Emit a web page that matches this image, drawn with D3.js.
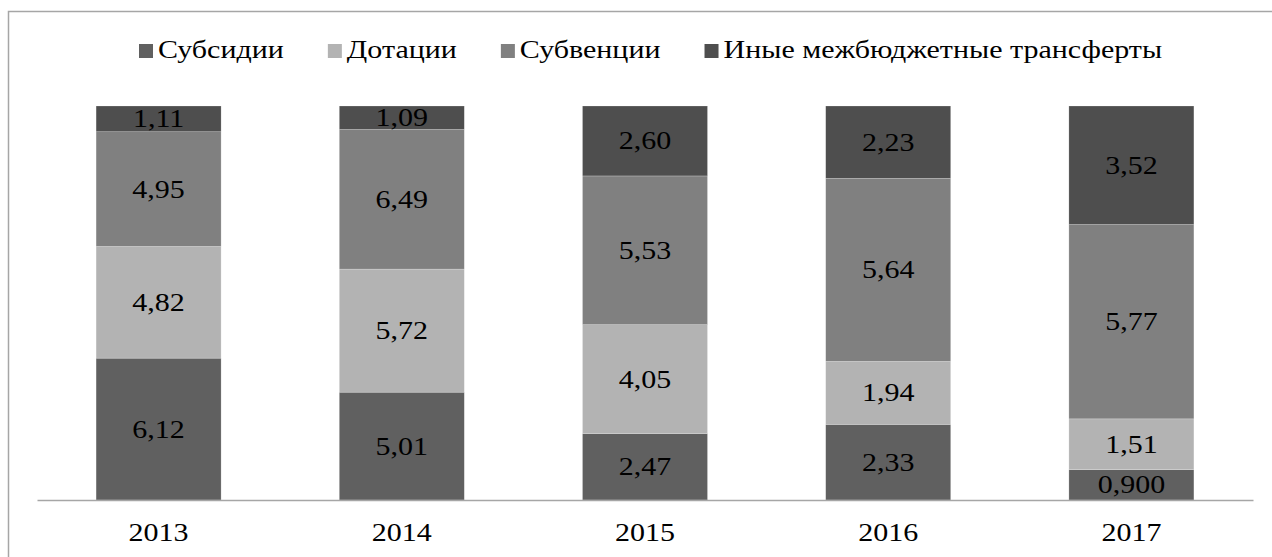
<!DOCTYPE html>
<html>
<head>
<meta charset="utf-8">
<script src="https://cdn.jsdelivr.net/npm/d3@7"></script>
<style>
  body { margin: 0; background: #fff; }
  svg { display: block; }
</style>
</head>
<body>
<div id="chart"></div>
<script>
// Data (values shown as labels, bars stacked to 100%)
const years = ['2013', '2014', '2015', '2016', '2017'];
const seriesNames = ['Субсидии', 'Дотации', 'Субвенции', 'Иные межбюджетные трансферты'];
const subsidies = [6.12, 5.01, 2.47, 2.33, 0.900];
const grants = [4.82, 5.72, 4.05, 1.94, 1.51];
const subventions = [4.95, 6.49, 5.53, 5.64, 5.77];
const otherTransfers = [1.11, 1.09, 2.60, 2.23, 3.52];
const seriesColors = ['#606060', '#b3b3b3', '#808080', '#4e4e4e'];

const width = 1272;
const height = 557;
const fontFamily = "'Liberation Serif', 'DejaVu Serif', serif";
const fontSize = 25;
const stretch = 1.2; // source image text is a bit wider than plain Times

const rows = years.map((y, i) => ({
  year: y,
  'Субсидии': subsidies[i],
  'Дотации': grants[i],
  'Субвенции': subventions[i],
  'Иные межбюджетные трансферты': otherTransfers[i]
}));

const ru = d3.formatLocale({ decimal: ',', thousands: ' ', grouping: [3], currency: ['', ''] });
const fmt = ru.format('.3r');

const svg = d3.select('#chart').append('svg')
  .attr('width', width)
  .attr('height', height)
  .attr('font-family', fontFamily);

// outer chart frame (right and bottom fall outside the picture)
svg.append('rect')
  .attr('x', 8.5).attr('y', 11.5)
  .attr('width', 1300).attr('height', 600)
  .attr('fill', 'none')
  .attr('stroke', '#a6a6a6')
  .attr('stroke-width', 1.5);

const x = d3.scaleBand()
  .domain(years)
  .range([37, 1253])
  .paddingInner(0.486)
  .paddingOuter(0.243);

const y = d3.scaleLinear()
  .domain([0, 1])
  .range([500, 106]);

const color = d3.scaleOrdinal().domain(seriesNames).range(seriesColors);

const stacked = d3.stack()
  .keys(seriesNames)
  .offset(d3.stackOffsetExpand)(rows);

// bars
const layers = svg.append('g').selectAll('g')
  .data(stacked)
  .join('g')
  .attr('fill', d => color(d.key));

layers.selectAll('rect')
  .data(d => d)
  .join('rect')
  .attr('x', d => x(d.data.year))
  .attr('width', x.bandwidth())
  .attr('y', d => y(d[1]))
  .attr('height', d => y(d[0]) - y(d[1]))
  .attr('stroke', 'rgba(255,255,255,0.35)')
  .attr('stroke-width', 0.6);

// value labels
layers.each(function (layer) {
  d3.select(this).selectAll('text')
    .data(layer)
    .join('text')
    .attr('text-anchor', 'middle')
    .attr('dy', '0.34em')
    .attr('fill', '#000')
    .style('font-family', fontFamily)
    .style('font-size', fontSize + 'px')
    .attr('transform', d => `translate(${x(d.data.year) + x.bandwidth() / 2},${(y(d[0]) + y(d[1])) / 2}) scale(${stretch},1)`)
    .text(d => fmt(d.data[layer.key]));
});

// x axis
const xAxis = svg.append('g')
  .attr('transform', 'translate(0,500)')
  .call(d3.axisBottom(x).tickSize(0).tickPadding(0));
xAxis.attr('font-family', null);
xAxis.select('.domain').attr('stroke', '#a6a6a6').attr('stroke-width', 1.5);
xAxis.selectAll('.tick text')
  .style('font-family', fontFamily)
  .style('font-size', fontSize + 'px')
  .attr('y', 0)
  .attr('dy', 0)
  .attr('transform', `translate(0,41) scale(${stretch},1)`);

// legend
const legend = svg.append('g').attr('transform', 'translate(139,0)');
let cursor = 0;
seriesNames.forEach(name => {
  const item = legend.append('g').attr('transform', `translate(${cursor},0)`);
  item.append('rect')
    .attr('x', 0).attr('y', 44)
    .attr('width', 14).attr('height', 14)
    .attr('fill', color(name));
  const t = item.append('text')
    .attr('transform', `translate(19,58) scale(${stretch},1)`)
    .style('font-family', fontFamily)
    .style('font-size', fontSize + 'px')
    .text(name);
  cursor += 19 + t.node().getComputedTextLength() * stretch + 44;
});
</script>
</body>
</html>
